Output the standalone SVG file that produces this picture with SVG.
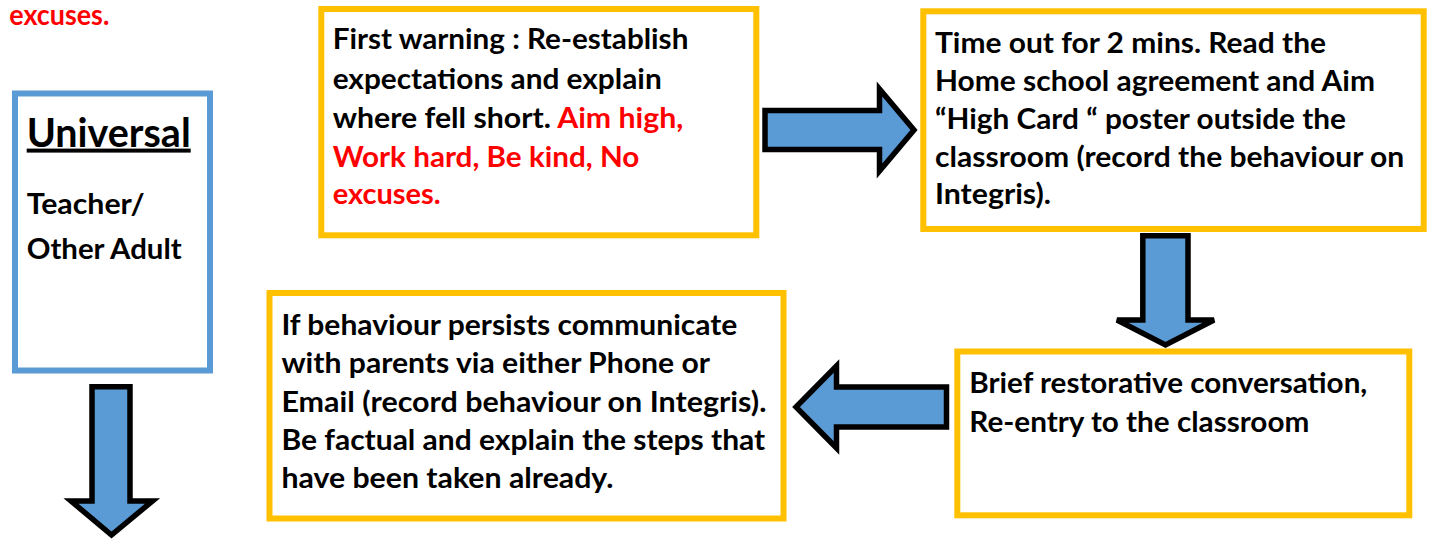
<svg xmlns="http://www.w3.org/2000/svg" width="1431" height="541" viewBox="0 0 1431 541">
<style>
.box{fill:#fff;stroke:#FFC000;stroke-width:6}
.ubox{fill:#fff;stroke:#5B9BD5;stroke-width:6}
.arr{fill:#5B9BD5;stroke:#000;stroke-width:5.5;stroke-linejoin:miter}
text{font-family:Lato,"Liberation Sans",sans-serif;font-weight:bold;font-size:29px;fill:#000}
.red{fill:#FF0000}
</style>
<rect width="1431" height="541" fill="#fff"/>
<text class="red" x="9.3" y="24.8" textLength="100" lengthAdjust="spacingAndGlyphs">excuses.</text>
<g id="universal">
<rect class="ubox" x="15" y="93.5" width="195" height="277"/>
<text x="26.7" y="146.6" style="font-size:40px;text-decoration:underline" textLength="164" lengthAdjust="spacingAndGlyphs">Universal</text>
<text x="26.7" y="213.8" textLength="118" lengthAdjust="spacingAndGlyphs">Teacher/</text>
<text x="26.7" y="259.3" textLength="155" lengthAdjust="spacingAndGlyphs">Other Adult</text>
</g>
<g id="first-warning">
<rect class="box" x="321.3" y="9" width="435" height="226.3"/>
<text x="332.7" y="49.3" textLength="355.7" lengthAdjust="spacingAndGlyphs">First warning : Re-establish</text>
<text x="332.7" y="89.2" textLength="329" lengthAdjust="spacingAndGlyphs">expectations and explain</text>
<text x="332.7" y="128.3" textLength="350.7" lengthAdjust="spacingAndGlyphs">where fell short. <tspan class="red">Aim high,</tspan></text>
<text class="red" x="332.7" y="166.7" textLength="306.7" lengthAdjust="spacingAndGlyphs">Work hard, Be kind, No</text>
<text class="red" x="332.7" y="204" textLength="108" lengthAdjust="spacingAndGlyphs">excuses.</text>
</g>
<g id="time-out">
<rect class="box" x="923.3" y="11.3" width="500.4" height="217.7"/>
<text x="935" y="53.3" textLength="391" lengthAdjust="spacingAndGlyphs">Time out for 2 mins. Read the</text>
<text x="935" y="90.7" textLength="440" lengthAdjust="spacingAndGlyphs">Home school agreement and Aim</text>
<text x="935" y="129.3" textLength="411" lengthAdjust="spacingAndGlyphs">“High Card “ poster outside the</text>
<text x="935" y="166.7" textLength="469.3" lengthAdjust="spacingAndGlyphs">classroom (record the behaviour on</text>
<text x="935" y="204" textLength="116" lengthAdjust="spacingAndGlyphs">Integris).</text>
</g>
<g id="restorative">
<rect class="box" x="957.3" y="351.5" width="452" height="163.8"/>
<text x="969.3" y="393.3" textLength="398" lengthAdjust="spacingAndGlyphs">Brief restorative conversation,</text>
<text x="969.3" y="431.7" textLength="340" lengthAdjust="spacingAndGlyphs">Re-entry to the classroom</text>
</g>
<g id="parents">
<rect class="box" x="269.5" y="293" width="514" height="225.5"/>
<text x="281.4" y="335" textLength="456" lengthAdjust="spacingAndGlyphs">If behaviour persists communicate</text>
<text x="281.4" y="373.3" textLength="428.6" lengthAdjust="spacingAndGlyphs">with parents via either Phone or</text>
<text x="281.4" y="411.7" textLength="485" lengthAdjust="spacingAndGlyphs">Email (record behaviour on Integris).</text>
<text x="281.4" y="450" textLength="483.8" lengthAdjust="spacingAndGlyphs">Be factual and explain the steps that</text>
<text x="281.4" y="488.3" textLength="332" lengthAdjust="spacingAndGlyphs">have been taken already.</text>
</g>
<g id="connectors">
<path class="arr" d="M765,110.5 H879.5 V89 L914,130 L879.5,171 V149.5 H765 Z"/>
<path class="arr" d="M1142.8,235.8 H1188 V320 H1214 L1165.5,345 L1117,320 H1142.8 Z"/>
<path class="arr" d="M946.5,387 H836.5 V366 L796,407 L836.5,448 V427 H946.5 Z"/>
<path class="arr" d="M92,386.8 H130 V501 H152.5 L111.5,535 L71,501 H92 Z"/>
</g>
</svg>
